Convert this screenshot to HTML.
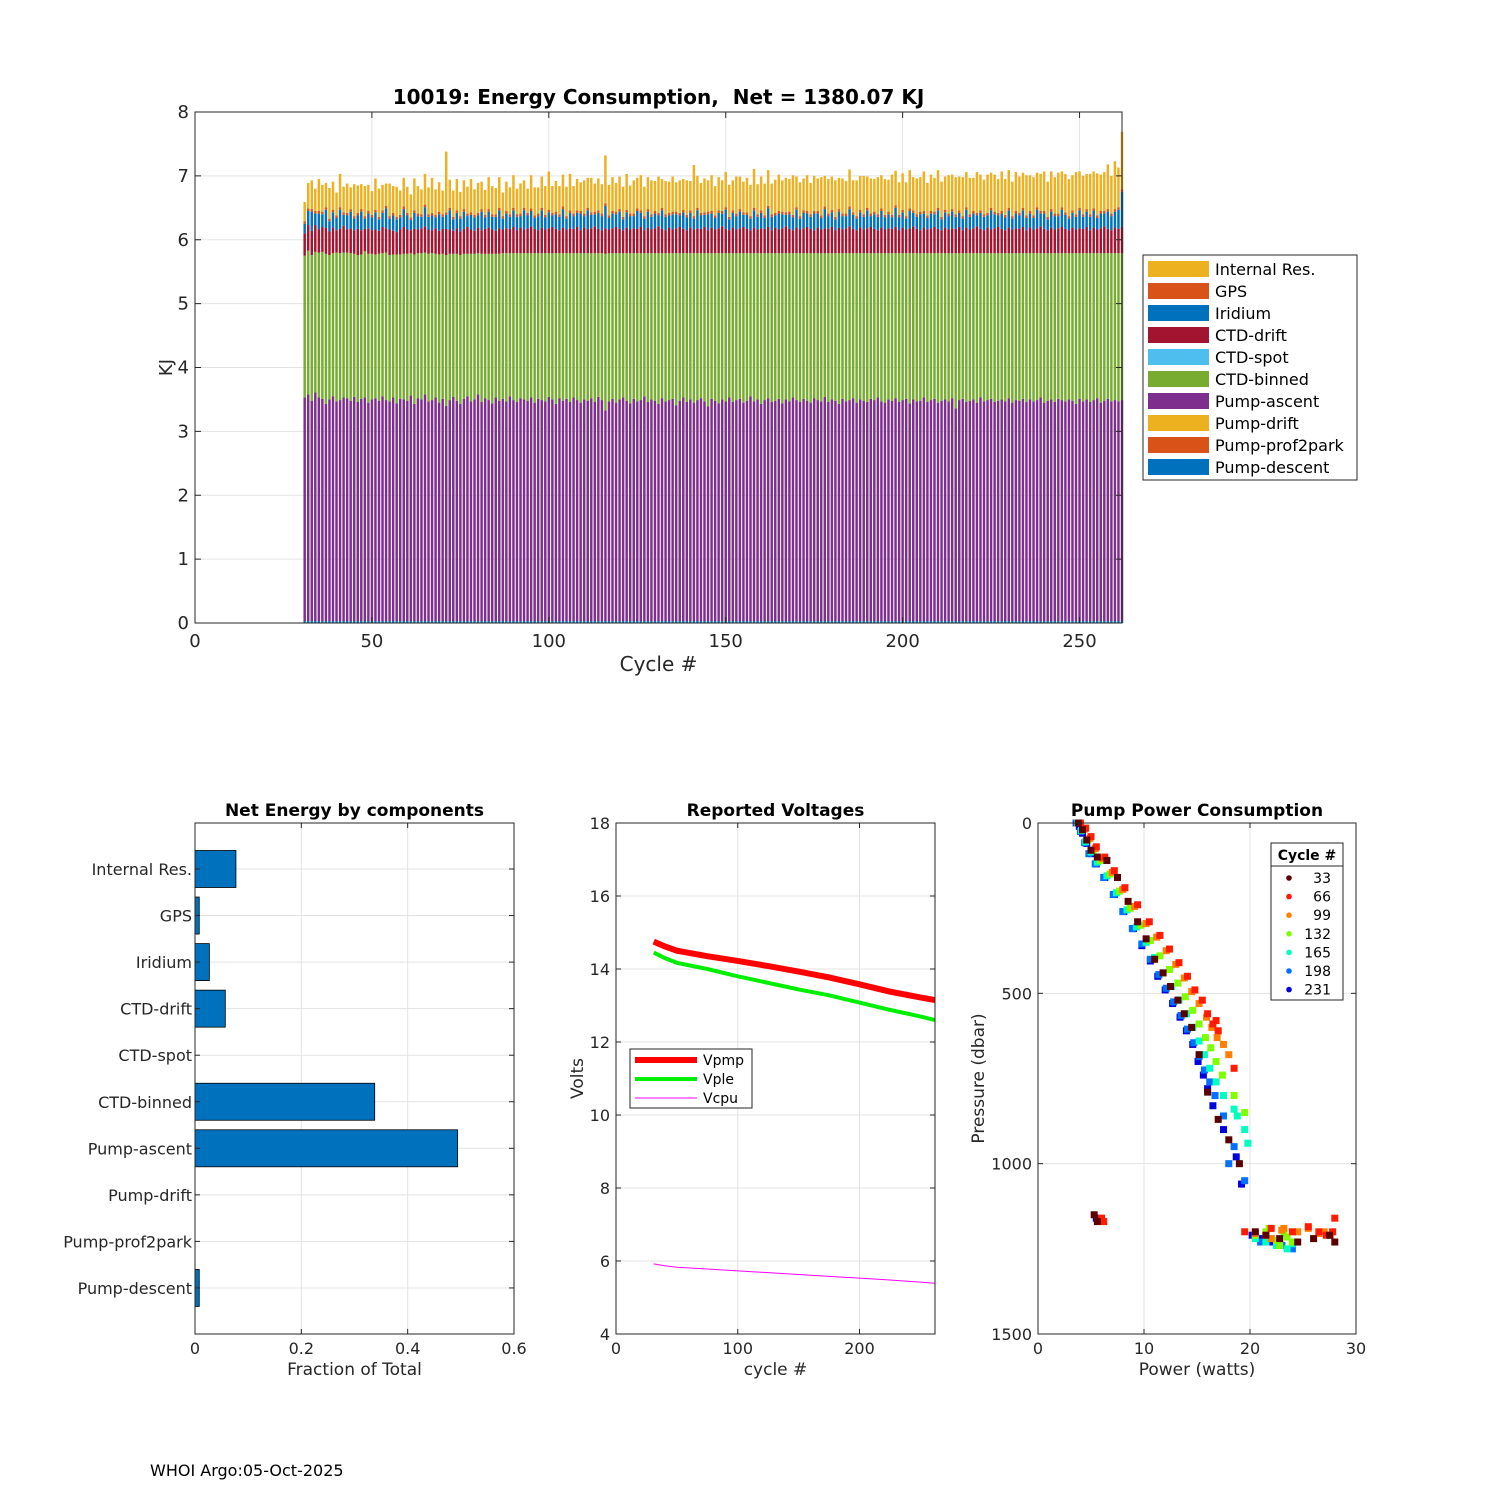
<!DOCTYPE html>
<html><head><meta charset="utf-8"><style>
body{margin:0;background:#fff}
svg{display:block;font-family:"DejaVu Sans","Liberation Sans",sans-serif}
</style></head><body>
<svg id="fig" width="1500" height="1500" xmlns="http://www.w3.org/2000/svg">
<rect width="1500" height="1500" fill="#fff"/>
<g id="top"></g>
<g id="bl"></g>
<g id="bm"></g>
<g id="br"></g>
<text x="150" y="1476" font-size="16" fill="#000">WHOI Argo:05-Oct-2025</text>
</svg>
<script>
const cycleStart = 31;
const ascent = [3.50,3.55,3.45,3.58,3.50,3.48,3.40,3.47,3.52,3.44,3.46,3.50,3.49,3.45,3.51,3.43,3.48,3.50,3.42,3.47,
3.49,3.45,3.52,3.46,3.44,3.50,3.41,3.48,3.47,3.45,3.53,3.40,3.49,3.47,3.55,3.44,3.46,3.50,3.42,3.48,
3.37,3.46,3.51,3.45,3.40,3.48,3.52,3.44,3.47,3.55,3.43,3.49,3.46,3.41,3.50,3.45,3.48,3.44,3.52,3.46,
3.43,3.49,3.47,3.45,3.50,3.42,3.48,3.46,3.44,3.51,3.47,3.40,3.49,3.45,3.48,3.43,3.50,3.46,3.42,3.47,
3.45,3.49,3.43,3.51,3.46,3.30,3.44,3.48,3.42,3.47,3.50,3.45,3.41,3.48,3.44,3.46,3.52,3.43,3.47,3.45,
3.40,3.49,3.44,3.46,3.48,3.38,3.45,3.50,3.43,3.47,3.42,3.46,3.49,3.44,3.36,3.48,3.45,3.41,3.47,3.44,
3.50,3.43,3.46,3.48,3.42,3.45,3.52,3.44,3.47,3.40,3.46,3.49,3.43,3.45,3.48,3.41,3.47,3.44,3.50,3.46,
3.43,3.48,3.45,3.42,3.49,3.46,3.44,3.51,3.43,3.47,3.45,3.40,3.48,3.44,3.46,3.49,3.42,3.47,3.45,3.43,
3.48,3.46,3.50,3.44,3.42,3.47,3.45,3.49,3.43,3.46,3.48,3.41,3.47,3.44,3.45,3.50,3.43,3.46,3.48,3.42,
3.45,3.47,3.44,3.49,3.33,3.46,3.48,3.43,3.45,3.47,3.42,3.50,3.44,3.46,3.48,3.43,3.45,3.47,3.44,3.49,
3.42,3.46,3.45,3.48,3.43,3.47,3.44,3.46,3.50,3.42,3.45,3.47,3.43,3.48,3.46,3.44,3.47,3.45,3.40,3.48,
3.44,3.47,3.43,3.46,3.49,3.42,3.45,3.48,3.44,3.46,3.44,3.46];
const binned = [2.22,2.25,2.28,2.20,2.27,2.30,2.35,2.26,2.24,2.33,2.30,2.27,2.28,2.31,2.24,2.30,2.26,2.29,2.33,2.28,
2.25,2.30,2.24,2.31,2.29,2.24,2.33,2.26,2.28,2.30,2.23,2.34,2.27,2.29,2.22,2.31,2.30,2.25,2.32,2.27,
2.36,2.29,2.24,2.30,2.33,2.27,2.23,2.31,2.28,2.21,2.32,2.26,2.29,2.34,2.25,2.30,2.28,2.32,2.24,2.30,
2.33,2.27,2.29,2.31,2.26,2.34,2.28,2.30,2.32,2.25,2.29,2.36,2.27,2.31,2.28,2.33,2.26,2.30,2.34,2.29,
2.31,2.27,2.33,2.25,2.30,2.45,2.32,2.28,2.34,2.29,2.26,2.31,2.35,2.28,2.32,2.30,2.24,2.33,2.29,2.31,
2.36,2.27,2.32,2.30,2.28,2.38,2.31,2.26,2.33,2.29,2.34,2.30,2.27,2.32,2.40,2.28,2.31,2.35,2.29,2.32,
2.26,2.33,2.30,2.28,2.34,2.31,2.24,2.32,2.29,2.36,2.30,2.27,2.33,2.31,2.28,2.35,2.29,2.32,2.26,2.30,
2.33,2.28,2.31,2.34,2.27,2.30,2.32,2.25,2.33,2.29,2.31,2.36,2.28,2.32,2.30,2.27,2.34,2.29,2.31,2.33,
2.28,2.30,2.26,2.32,2.34,2.29,2.31,2.27,2.33,2.30,2.28,2.35,2.29,2.32,2.31,2.26,2.33,2.30,2.28,2.34,
2.31,2.29,2.32,2.27,2.43,2.30,2.28,2.33,2.31,2.29,2.34,2.26,2.32,2.30,2.28,2.33,2.31,2.29,2.32,2.27,
2.34,2.30,2.31,2.28,2.33,2.29,2.32,2.30,2.26,2.34,2.31,2.29,2.33,2.28,2.30,2.32,2.29,2.31,2.36,2.28,
2.32,2.29,2.33,2.30,2.27,2.34,2.31,2.28,2.32,2.30,2.32,2.30];
const ctdDrift = [0.35,0.40,0.38,0.42,0.36,0.39,0.41,0.37,0.40,0.35,0.38,0.42,0.36,0.39,0.37,0.41,0.38,0.35,0.40,0.37,
0.39,0.36,0.41,0.38,0.40,0.37,0.35,0.39,0.42,0.38,0.36,0.40,0.37,0.39,0.41,0.38,0.36,0.40,0.37,0.39,
0.41,0.38,0.36,0.40,0.37,0.39,0.42,0.38,0.36,0.40,0.37,0.39,0.41,0.38,0.36,0.40,0.37,0.39,0.38,0.41,
0.36,0.40,0.37,0.39,0.42,0.38,0.36,0.40,0.37,0.39,0.41,0.38,0.36,0.40,0.37,0.39,0.38,0.41,0.36,0.40,
0.37,0.39,0.42,0.38,0.36,0.40,0.37,0.39,0.41,0.38,0.36,0.40,0.37,0.39,0.38,0.41,0.36,0.40,0.37,0.39,
0.42,0.38,0.36,0.40,0.37,0.39,0.41,0.38,0.36,0.40,0.37,0.39,0.38,0.41,0.36,0.40,0.37,0.39,0.42,0.38,
0.36,0.40,0.37,0.39,0.41,0.38,0.36,0.40,0.37,0.39,0.38,0.41,0.36,0.40,0.37,0.39,0.42,0.38,0.36,0.40,
0.37,0.39,0.41,0.38,0.36,0.40,0.37,0.39,0.38,0.41,0.36,0.40,0.37,0.39,0.42,0.38,0.36,0.40,0.37,0.39,
0.41,0.38,0.36,0.40,0.37,0.39,0.38,0.41,0.36,0.40,0.37,0.39,0.42,0.38,0.36,0.40,0.37,0.39,0.41,0.38,
0.36,0.40,0.37,0.39,0.38,0.41,0.36,0.40,0.37,0.39,0.42,0.38,0.36,0.40,0.37,0.39,0.41,0.38,0.36,0.40,
0.37,0.39,0.38,0.41,0.36,0.40,0.37,0.39,0.42,0.38,0.36,0.40,0.37,0.39,0.41,0.38,0.36,0.40,0.37,0.39,
0.38,0.41,0.36,0.40,0.37,0.39,0.42,0.38,0.36,0.40,0.38,0.41];
const iridium = [0.15,0.22,0.30,0.18,0.25,0.20,0.28,0.16,0.24,0.19,0.30,0.17,0.22,0.26,0.18,0.21,0.29,0.16,0.23,0.20,
0.27,0.18,0.22,0.31,0.17,0.24,0.20,0.19,0.28,0.22,0.16,0.25,0.21,0.18,0.30,0.20,0.23,0.17,0.26,0.19,
0.22,0.30,0.18,0.24,0.20,0.27,0.17,0.23,0.21,0.19,0.29,0.18,0.25,0.20,0.22,0.28,0.17,0.23,0.19,0.26,
0.21,0.18,0.30,0.20,0.24,0.17,0.22,0.27,0.19,0.25,0.18,0.23,0.21,0.29,0.17,0.24,0.20,0.22,0.26,0.18,
0.30,0.21,0.19,0.25,0.22,0.35,0.18,0.23,0.20,0.27,0.17,0.24,0.21,0.19,0.28,0.22,0.18,0.25,0.20,0.23,
0.17,0.29,0.21,0.19,0.24,0.22,0.18,0.26,0.20,0.23,0.17,0.28,0.21,0.19,0.25,0.22,0.18,0.24,0.20,0.30,
0.17,0.23,0.21,0.26,0.19,0.22,0.18,0.27,0.20,0.24,0.17,0.29,0.21,0.19,0.25,0.22,0.18,0.23,0.20,0.28,
0.17,0.24,0.21,0.19,0.26,0.22,0.18,0.30,0.20,0.23,0.17,0.25,0.21,0.19,0.27,0.22,0.18,0.24,0.20,0.28,
0.17,0.23,0.21,0.26,0.19,0.22,0.18,0.30,0.20,0.24,0.17,0.27,0.21,0.19,0.25,0.22,0.18,0.23,0.20,0.29,
0.17,0.24,0.21,0.26,0.19,0.22,0.18,0.28,0.20,0.23,0.17,0.25,0.21,0.19,0.30,0.22,0.18,0.24,0.20,0.27,
0.17,0.23,0.21,0.26,0.19,0.22,0.18,0.29,0.20,0.24,0.17,0.25,0.21,0.19,0.27,0.22,0.18,0.23,0.20,0.28,
0.19,0.24,0.21,0.26,0.18,0.23,0.20,0.27,0.22,0.25,0.30,0.55];
const gps = Array.from({length:232},()=>0.04);
const internalRes = [0.30,0.40,0.45,0.35,0.50,0.42,0.38,0.48,0.44,0.36,0.52,0.40,0.46,0.34,0.50,0.43,0.39,0.47,0.41,0.37,
0.49,0.44,0.40,0.35,0.51,0.42,0.47,0.38,0.45,0.41,0.36,0.50,0.43,0.39,0.48,0.42,0.55,0.40,0.46,0.37,
0.95,0.44,0.41,0.49,0.38,0.45,0.42,0.52,0.40,0.47,0.43,0.39,0.50,0.44,0.41,0.48,0.37,0.46,0.42,0.51,
0.40,0.47,0.43,0.38,0.52,0.44,0.41,0.49,0.45,0.60,0.42,0.48,0.44,0.50,0.46,0.57,0.43,0.49,0.45,0.52,
0.47,0.54,0.44,0.50,0.46,0.75,0.48,0.53,0.45,0.51,0.47,0.56,0.44,0.52,0.48,0.55,0.46,0.50,0.53,0.47,
0.57,0.45,0.52,0.49,0.55,0.46,0.51,0.48,0.54,0.46,0.80,0.50,0.47,0.53,0.49,0.56,0.46,0.52,0.48,0.55,
0.50,0.47,0.58,0.51,0.48,0.54,0.49,0.61,0.47,0.53,0.50,0.56,0.48,0.52,0.57,0.49,0.54,0.51,0.62,0.48,
0.53,0.50,0.56,0.49,0.55,0.51,0.60,0.48,0.54,0.52,0.57,0.49,0.55,0.51,0.58,0.50,0.56,0.53,0.60,0.49,
0.55,0.51,0.58,0.52,0.56,0.50,0.63,0.54,0.51,0.57,0.53,0.60,0.52,0.56,0.54,0.62,0.51,0.57,0.53,0.59,
0.55,0.52,0.60,0.54,0.58,0.53,0.61,0.55,0.57,0.52,0.64,0.56,0.54,0.60,0.55,0.58,0.53,0.62,0.56,0.59,
0.54,0.61,0.57,0.55,0.63,0.56,0.60,0.54,0.58,0.62,0.55,0.59,0.57,0.64,0.56,0.60,0.58,0.55,0.66,0.57,
0.60,0.55,0.63,0.58,0.66,0.57,0.61,0.70,0.59,0.75,0.62,0.90];
const descent = Array.from({length:232},()=>0.03);

const compNames = ["Internal Res.","GPS","Iridium","CTD-drift","CTD-spot","CTD-binned","Pump-ascent","Pump-drift","Pump-prof2park","Pump-descent"];
const compFrac = [0.077,0.008,0.027,0.057,0,0.338,0.494,0,0,0.008];

const voltCycles = [31,40,50,75,100,125,150,175,200,225,250,262];
const vpmp = [14.75,14.62,14.50,14.35,14.22,14.08,13.93,13.77,13.58,13.38,13.22,13.15];
const vple = [14.45,14.30,14.17,14.00,13.80,13.62,13.44,13.28,13.08,12.88,12.70,12.60];
const vcpu = [5.92,5.87,5.83,5.78,5.73,5.68,5.63,5.58,5.53,5.48,5.42,5.39];

const scatGroups = ["33","66","99","132","165","198","231"];
const scatColors = ["#5a0000","#ff1a00","#ff8000","#80ff00","#00ffc0","#0070ff","#0000e0"];
const scatPower = [
 [3.8,4.2,4.6,5.0,5.6,6.5,7.5,8.5,9.4,10.2,11.0,11.8,12.5,13.2,13.8,14.5,15.2,16.0,17.0,18.0,19.0,20.5,21.5,22.8,24.5,26.0,27.5,28.0,5.3,5.6],
 [4.0,4.5,5.0,5.5,6.3,7.2,8.2,9.4,10.5,11.5,12.4,13.3,14.1,14.8,15.5,16.0,16.5,17.0,18.5,19.5,22.0,24.0,25.5,26.5,27.2,27.8,28.0,6.0,6.2,16.8],
 [3.9,4.4,4.9,5.4,6.1,7.0,8.0,9.1,10.2,11.2,12.1,13.0,13.8,14.5,15.2,15.9,16.4,16.9,17.5,18.0,21.5,23.0,24.5,25.5,26.5,27.0,27.6,20.5,22.0,23.2],
 [3.8,4.2,4.7,5.2,5.9,6.8,7.7,8.7,9.7,10.6,11.5,12.4,13.2,13.9,14.6,15.2,15.8,16.3,16.8,17.4,18.5,20.5,21.5,22.5,23.5,24.0,22.8,21.8,23.2,19.5],
 [3.7,4.1,4.5,5.0,5.6,6.5,7.4,8.4,9.3,10.2,11.0,11.8,12.6,13.3,14.0,14.6,15.2,15.7,16.2,16.8,17.5,18.5,19.5,20.5,21.5,22.5,23.5,24.0,19.8,18.8],
 [3.7,4.0,4.4,4.8,5.4,6.2,7.1,8.0,8.9,9.8,10.6,11.4,12.1,12.8,13.5,14.1,14.7,15.2,15.7,16.2,16.7,17.5,18.5,21.0,22.0,23.0,24.0,20.5,19.5,18.0],
 [3.6,3.9,4.2,4.6,5.0,5.5,6.3,7.2,8.1,9.0,9.8,10.6,11.3,12.0,12.7,13.4,14.0,14.6,15.1,15.6,16.0,16.5,17.5,18.7,19.2,20.2,21.0,22.0,23.0,5.5]];
const scatPress = [
 [0,20,50,80,100,110,160,230,290,340,400,440,480,520,560,600,680,790,870,930,1000,1200,1210,1220,1230,1220,1210,1230,1150,1170],
 [0,15,40,70,100,140,190,240,290,330,370,410,450,490,520,560,590,610,720,1200,1190,1200,1185,1200,1210,1200,1160,1160,1170,580],
 [0,18,45,75,105,145,195,245,295,335,375,415,455,495,530,570,600,630,650,680,1210,1195,1200,1190,1205,1200,1210,1205,1220,1190],
 [0,20,50,80,110,150,200,250,300,345,390,430,470,510,550,590,630,660,700,740,800,1210,1200,1225,1215,1230,1240,1190,1205,850],
 [0,22,55,85,115,155,205,255,305,350,395,440,480,520,560,600,640,680,720,760,800,840,900,1220,1230,1240,1250,1235,940,860],
 [0,25,58,90,120,160,210,260,310,355,400,445,485,525,565,605,645,685,725,760,800,860,950,1230,1220,1240,1250,1210,1050,1000],
 [0,10,30,60,90,120,160,210,260,310,360,405,450,490,530,570,610,650,700,740,780,830,900,980,1060,1210,1220,1230,1240,1160]];

const NS="http://www.w3.org/2000/svg";
function el(parent,tag,attrs,text){const e=document.createElementNS(NS,tag);for(const k in attrs)e.setAttribute(k,attrs[k]);if(text!==undefined)e.textContent=text;parent.appendChild(e);return e;}
const txt=(p,x,y,s,size,anchor,extra)=>el(p,"text",Object.assign({x:x,y:y,"font-size":size,"text-anchor":anchor||"middle",fill:"#262626"},extra||{}),s);

// ---------- TOP CHART ----------
(function(){
 const g=document.getElementById("top");
 const L=195,R=1122,T=112,B=623,xmax=262,ymax=8;
 const X=v=>L+(v/xmax)*(R-L), Y=v=>B-(v/ymax)*(B-T);
 el(g,"rect",{x:L,y:T,width:R-L,height:B-T,fill:"#fff"});
 for(let v=50;v<=250;v+=50)el(g,"line",{x1:X(v),x2:X(v),y1:T,y2:B,stroke:"#e3e3e3"});
 for(let v=1;v<8;v++)el(g,"line",{x1:L,x2:R,y1:Y(v),y2:Y(v),stroke:"#e3e3e3"});
 const series=[[descent,"#0072BD"],[ascent,"#7E2F8E"],[binned,"#77AC30"],[ctdDrift,"#A2142F"],[iridium,"#0072BD"],[gps,"#D95319"],[internalRes,"#EDB120"]];
 const w=(R-L)/xmax*0.7;
 for(let i=0;i<ascent.length;i++){
  const c=cycleStart+i;let base=0;
  for(const [arr,col] of series){
   const v=arr[i];
   const r=el(g,"rect",{x:X(c)-w/2,y:Y(base+v),width:w,height:Y(base)-Y(base+v),fill:col});
   
   
   base+=v;
  }
 }
 el(g,"rect",{x:L,y:T,width:R-L,height:B-T,fill:"none",stroke:"#262626","stroke-width":1});
 for(let v=0;v<=250;v+=50){el(g,"line",{x1:X(v),x2:X(v),y1:B,y2:B-6,stroke:"#262626"});el(g,"line",{x1:X(v),x2:X(v),y1:T,y2:T+6,stroke:"#262626"});txt(g,X(v),B+24,String(v),18);}
 for(let v=0;v<=8;v++){el(g,"line",{x1:L,x2:L+6,y1:Y(v),y2:Y(v),stroke:"#262626"});el(g,"line",{x1:R,x2:R-6,y1:Y(v),y2:Y(v),stroke:"#262626"});txt(g,L-6,Y(v)+6,String(v),18,"end");}
 txt(g,(L+R)/2,B+48,"Cycle #",20,"middle",{});
 txt(g,172,(T+B)/2,"KJ",18,"middle",{transform:`rotate(-90 172 ${(T+B)/2})`,});
 txt(g,(L+R)/2,104,"10019: Energy Consumption,\u00a0 Net = 1380.07 KJ",20,"middle",{"font-weight":"bold",fill:"#000",});
 const lg=el(g,"g",{});
 el(lg,"rect",{x:1143,y:255,width:214,height:225,fill:"#fff",stroke:"#262626"});
 const lc=["#EDB120","#D95319","#0072BD","#A2142F","#4DBEEE","#77AC30","#7E2F8E","#EDB120","#D95319","#0072BD"];
 compNames.slice(0,7).concat(["Pump-drift","Pump-prof2park","Pump-descent"]).forEach((n,i)=>{
  const y=269+i*22;
  el(lg,"rect",{x:1148,y:y-8,width:61,height:16,fill:lc[i]});
  txt(lg,1215,y+6,n,16,"start",{fill:"#000"});
 });
})();

// ---------- BOTTOM LEFT ----------
(function(){
 const g=document.getElementById("bl");
 const L=195,R=514,T=823,B=1334,xmax=0.6;
 const X=v=>L+(v/xmax)*(R-L);
 const Yc=i=>869+i*46.55;
 el(g,"rect",{x:L,y:T,width:R-L,height:B-T,fill:"#fff"});
 [0.2,0.4].forEach(v=>el(g,"line",{x1:X(v),x2:X(v),y1:T,y2:B,stroke:"#e3e3e3"}));
 compNames.forEach((n,i)=>el(g,"line",{x1:L,x2:R,y1:Yc(i),y2:Yc(i),stroke:"#e3e3e3"}));
 compFrac.forEach((v,i)=>{
  const r=el(g,"rect",{x:L,y:Yc(i)-18.5,width:X(v)-L,height:37,fill:"#0072BD",stroke:"#000","stroke-width":v>0?0.8:0});
  
  
 });
 el(g,"rect",{x:L,y:T,width:R-L,height:B-T,fill:"none",stroke:"#262626"});
 [0,0.2,0.4,0.6].forEach(v=>{el(g,"line",{x1:X(v),x2:X(v),y1:B,y2:B-5,stroke:"#262626"});el(g,"line",{x1:X(v),x2:X(v),y1:T,y2:T+5,stroke:"#262626"});txt(g,X(v),B+20,String(v),16);});
 compNames.forEach((n,i)=>{el(g,"line",{x1:L,x2:L+5,y1:Yc(i),y2:Yc(i),stroke:"#262626"});el(g,"line",{x1:R,x2:R-5,y1:Yc(i),y2:Yc(i),stroke:"#262626"});txt(g,L-3,Yc(i)+6,n,16,"end");});
 txt(g,(L+R)/2,B+41,"Fraction of Total",17);
 txt(g,(L+R)/2,816,"Net Energy by components",17,"middle",{"font-weight":"bold",fill:"#000"});
})();

// ---------- BOTTOM MIDDLE ----------
(function(){
 const g=document.getElementById("bm");
 const L=616,R=935,T=823,B=1334,xmax=262,ymin=4,ymax=18;
 const X=v=>L+(v/xmax)*(R-L), Y=v=>B-((v-ymin)/(ymax-ymin))*(B-T);
 el(g,"rect",{x:L,y:T,width:R-L,height:B-T,fill:"#fff"});
 [100,200].forEach(v=>el(g,"line",{x1:X(v),x2:X(v),y1:T,y2:B,stroke:"#e3e3e3"}));
 for(let v=6;v<18;v+=2)el(g,"line",{x1:L,x2:R,y1:Y(v),y2:Y(v),stroke:"#e3e3e3"});
 const line=(arr,col,w,name)=>{const p=el(g,"polyline",{points:voltCycles.map((c,i)=>X(c)+","+Y(arr[i])).join(" "),fill:"none",stroke:col,"stroke-width":w});};
 line(vpmp,"#ff0000",6,"vpmp-line");line(vple,"#00ee00",4,"vple-line");line(vcpu,"#ff00ff",1,"vcpu-line");
 el(g,"rect",{x:L,y:T,width:R-L,height:B-T,fill:"none",stroke:"#262626"});
 [0,100,200].forEach(v=>{el(g,"line",{x1:X(v),x2:X(v),y1:B,y2:B-5,stroke:"#262626"});el(g,"line",{x1:X(v),x2:X(v),y1:T,y2:T+5,stroke:"#262626"});txt(g,X(v),B+20,String(v),16);});
 for(let v=4;v<=18;v+=2){el(g,"line",{x1:L,x2:L+5,y1:Y(v),y2:Y(v),stroke:"#262626"});el(g,"line",{x1:R,x2:R-5,y1:Y(v),y2:Y(v),stroke:"#262626"});txt(g,L-6,Y(v)+6,String(v),16,"end");}
 txt(g,(L+R)/2,B+41,"cycle #",17);
 txt(g,583,(T+B)/2,"Volts",17,"middle",{transform:`rotate(-90 583 ${(T+B)/2})`});
 txt(g,(L+R)/2,816,"Reported Voltages",17,"middle",{"font-weight":"bold",fill:"#000"});
 const lg=el(g,"g",{});
 el(lg,"rect",{x:630,y:1049,width:122,height:59,fill:"#fff",stroke:"#262626"});
 [["Vpmp","#ff0000",6],["Vple","#00ee00",4],["Vcpu","#ff00ff",1]].forEach((e,i)=>{const y=1060+i*19;el(lg,"line",{x1:635,x2:697,y1:y,y2:y,stroke:e[1],"stroke-width":e[2]});txt(lg,703,y+5,e[0],14,"start",{fill:"#000"});});
})();

// ---------- BOTTOM RIGHT ----------
(function(){
 const g=document.getElementById("br");
 const L=1038,R=1356,T=823,B=1334,xmax=30,ymax=1500;
 const X=v=>L+(v/xmax)*(R-L), Y=v=>T+(v/ymax)*(B-T);
 el(g,"rect",{x:L,y:T,width:R-L,height:B-T,fill:"#fff"});
 [10,20].forEach(v=>el(g,"line",{x1:X(v),x2:X(v),y1:T,y2:B,stroke:"#e3e3e3"}));
 [500,1000].forEach(v=>el(g,"line",{x1:L,x2:R,y1:Y(v),y2:Y(v),stroke:"#e3e3e3"}));
 for(let gi=scatGroups.length-1;gi>=0;gi--){
  scatPower[gi].forEach((p,i)=>{
   const d=el(g,"rect",{x:X(p)-3.5,y:Y(scatPress[gi][i])-3.5,width:7,height:7,fill:scatColors[gi]});
   
   
  });
 }
 el(g,"rect",{x:L,y:T,width:R-L,height:B-T,fill:"none",stroke:"#262626"});
 [0,10,20,30].forEach(v=>{el(g,"line",{x1:X(v),x2:X(v),y1:B,y2:B-5,stroke:"#262626"});el(g,"line",{x1:X(v),x2:X(v),y1:T,y2:T+5,stroke:"#262626"});txt(g,X(v),B+20,String(v),16);});
 [0,500,1000,1500].forEach(v=>{el(g,"line",{x1:L,x2:L+5,y1:Y(v),y2:Y(v),stroke:"#262626"});el(g,"line",{x1:R,x2:R-5,y1:Y(v),y2:Y(v),stroke:"#262626"});txt(g,L-6,Y(v)+6,String(v),16,"end");});
 txt(g,(L+R)/2,B+41,"Power (watts)",17);
 txt(g,984,(T+B)/2,"Pressure (dbar)",17,"middle",{transform:`rotate(-90 984 ${(T+B)/2})`});
 txt(g,(L+R)/2,816,"Pump Power Consumption",17,"middle",{"font-weight":"bold",fill:"#000"});
 const lg=el(g,"g",{});
 el(lg,"rect",{x:1271,y:843,width:72,height:157,fill:"#fff",stroke:"#262626"});
 el(lg,"line",{x1:1271,x2:1343,y1:866,y2:866,stroke:"#262626"});
 txt(lg,1307,860,"Cycle #",14,"middle",{"font-weight":"bold",fill:"#000"});
 scatGroups.forEach((n,i)=>{const y=878+i*18.6;el(lg,"circle",{cx:1289,cy:y,r:2.8,fill:scatColors[i]});txt(lg,1331,y+5,n,14,"end",{fill:"#000"});});
})();
</script>
</body></html>
